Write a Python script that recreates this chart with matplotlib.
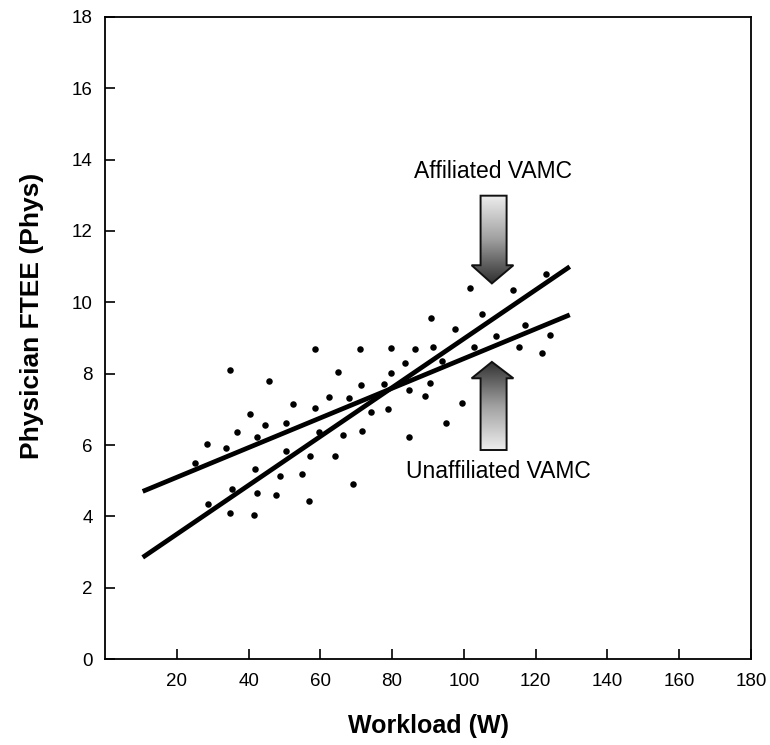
import numpy as np
import matplotlib
matplotlib.use("Agg")
import matplotlib.pyplot as plt
from matplotlib.patches import Polygon
from matplotlib.colors import LinearSegmentedColormap

plt.rcParams['font.family'] = ['Liberation Sans', 'DejaVu Sans']

# scatter points (workload W, physician FTEE)
workload = [34.7, 58.5, 45.7, 64.8, 52.5, 62.4, 58.5, 68.0, 40.4, 44.7,
            50.3, 36.8, 42.3, 59.7, 66.3, 28.5, 33.6, 50.3, 57.2, 64.2,
            25.0, 41.7, 48.8, 55.0, 69.1, 35.3, 42.3, 47.6, 56.7, 28.7,
            34.7, 41.4, 71.1, 79.8, 86.4, 83.7, 79.7, 71.4, 77.6, 84.6,
            89.1, 90.5, 74.1, 78.9, 71.7, 84.7, 122.8, 101.7, 113.7, 105.0,
            90.9, 97.6, 117.1, 108.9, 124.0, 91.5, 102.9, 115.3, 121.9, 93.9,
            99.4, 95.0]
ftee = [8.10, 8.68, 7.80, 8.05, 7.14, 7.35, 7.05, 7.33, 6.86, 6.56,
        6.62, 6.36, 6.22, 6.37, 6.27, 6.03, 5.92, 5.84, 5.70, 5.70,
        5.50, 5.33, 5.14, 5.18, 4.90, 4.78, 4.65, 4.60, 4.44, 4.35,
        4.10, 4.04, 8.69, 8.72, 8.69, 8.29, 8.03, 7.68, 7.72, 7.53,
        7.38, 7.73, 6.92, 7.02, 6.40, 6.23, 10.79, 10.40, 10.34, 9.68,
        9.55, 9.24, 9.36, 9.05, 9.08, 8.75, 8.75, 8.75, 8.57, 8.36,
        7.17, 6.61]

# fitted lines: workload range and FTEE at each end
line_x = [10.5, 129.5]
affiliated_y = [2.85, 11.0]
unaffiliated_y = [4.70, 9.65]

x_ticks = [20, 40, 60, 80, 100, 120, 140, 160, 180]
y_ticks = [0, 2, 4, 6, 8, 10, 12, 14, 16, 18]


def gradient_arrow(ax, pts, dark_at_top):
    pts = np.array(pts)
    poly = Polygon(pts, closed=True, facecolor='none', edgecolor='#111111',
                   lw=1.4, zorder=4)
    ax.add_patch(poly)
    cmap = LinearSegmentedColormap.from_list('g', ['#eeeeee', '#a0a0a0', '#303030'])
    grad = np.linspace(0, 1, 256).reshape(-1, 1)
    if not dark_at_top:
        grad = grad[::-1]
    im = ax.imshow(grad, extent=[pts[:, 0].min(), pts[:, 0].max(),
                                 pts[:, 1].min(), pts[:, 1].max()],
                   origin='lower', cmap=cmap, aspect='auto', zorder=3)
    im.set_clip_path(poly)


fig = plt.figure(figsize=(7.7, 7.45), dpi=100)
ax = fig.add_axes([0.1364, 0.1154, 0.8389, 0.8618])

ax.scatter(workload, ftee, s=22, color='black', zorder=5, linewidths=0)
ax.plot(line_x, affiliated_y, color='black', lw=3.4, solid_capstyle='butt', zorder=6)
ax.plot(line_x, unaffiliated_y, color='black', lw=3.4, solid_capstyle='butt', zorder=6)

# Affiliated arrow points down, Unaffiliated arrow points up
gradient_arrow(ax, [(104.65, 12.99), (111.9, 12.99), (111.9, 11.04), (113.8, 11.04),
                    (107.8, 10.53), (102.15, 11.04), (104.65, 11.04)], dark_at_top=False)
gradient_arrow(ax, [(104.65, 5.86), (111.9, 5.86), (111.9, 7.87), (113.8, 7.87),
                    (107.8, 8.33), (102.15, 7.87), (104.65, 7.87)], dark_at_top=True)

ax.text(108.0, 13.66, 'Affiliated VAMC', ha='center', va='center', fontsize=16.5)
ax.text(109.5, 5.25, 'Unaffiliated VAMC', ha='center', va='center', fontsize=16.5)

ax.set_xlim(0, 180)
ax.set_ylim(0, 18)
ax.set_xticks(x_ticks)
ax.set_yticks(y_ticks)
ax.tick_params(direction='in', length=7, width=1.2, labelsize=13.5)
ax.tick_params(axis='x', pad=10)
ax.tick_params(axis='y', pad=9)
for sp in ax.spines.values():
    sp.set_linewidth(1.3)

ax.set_xlabel('Workload (W)', fontsize=18, fontweight='bold', labelpad=17)
ax.set_ylabel('Physician FTEE (Phys)', fontsize=19, fontweight='bold')
ax.yaxis.set_label_coords(-0.095, 0.535)

fig.savefig('out.png', dpi=100)
